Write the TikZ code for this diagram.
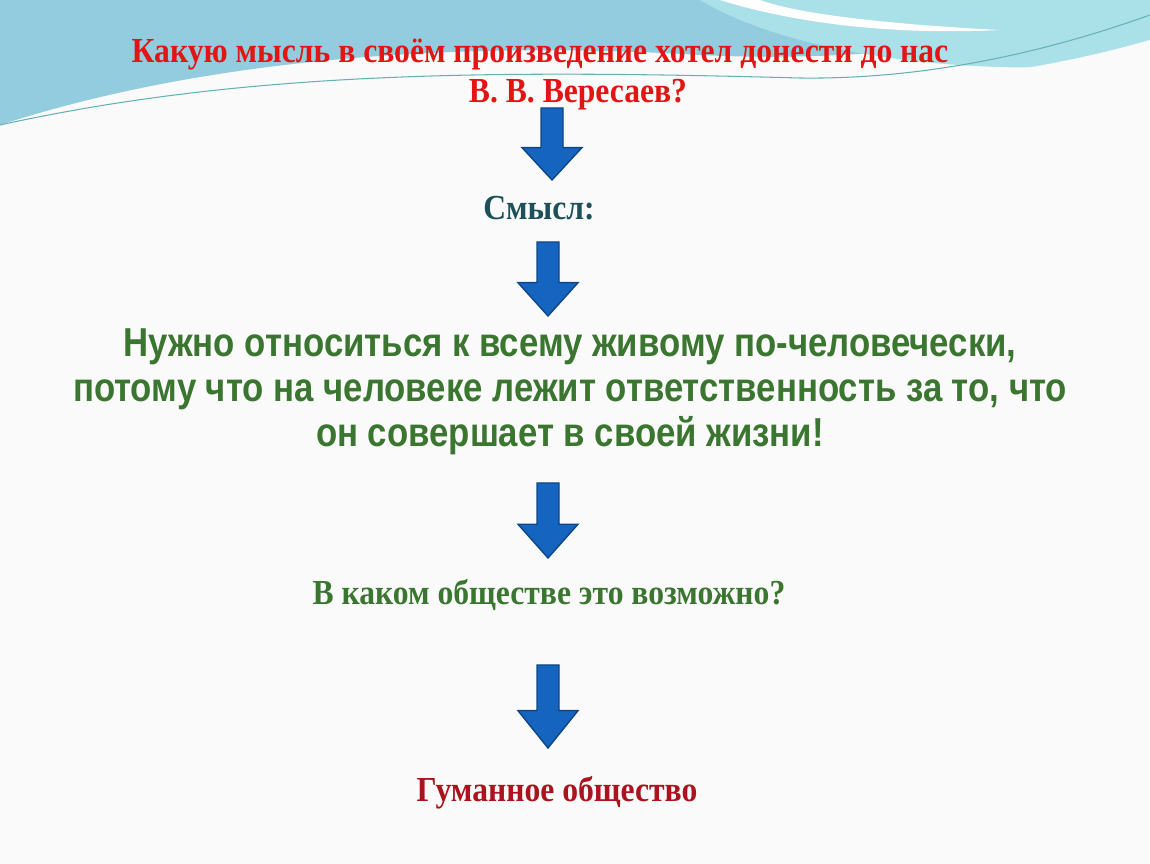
\documentclass[tikz,border=0pt]{standalone}
\usepackage{fontspec}
\setmainfont{Liberation Serif}
\newfontfamily\narrowserif[FakeStretch=0.9]{Liberation Serif}
\newfontfamily\narrowsans[FakeStretch=0.86]{Liberation Sans}
\usetikzlibrary{positioning}
\definecolor{titlered}{RGB}{226,20,20}
\definecolor{sensegreen}{RGB}{58,118,48}
\definecolor{meaningteal}{RGB}{30,80,90}
\definecolor{answerred}{RGB}{170,20,30}
\definecolor{arrowblue}{RGB}{21,101,192}
\definecolor{wavea}{RGB}{120,190,215}
\definecolor{waveb}{RGB}{170,225,232}
\tikzset{
  question/.style={font=\narrowserif\bfseries\fontsize{20}{24}\selectfont},
  statement/.style={font=\narrowsans\bfseries\fontsize{23}{25.5}\selectfont, text=sensegreen, align=center},
  downarrow/.style={fill=arrowblue, draw=arrowblue!70!black, line width=0.8pt}
}
\begin{document}
\begin{tikzpicture}[x=0.02cm, y=-0.02cm]
    \useasboundingbox (0,0) rectangle (1150,864);
    \fill[gray!4] (0,0) rectangle (1150,864);
    % top waves
    \fill[wavea!80] (0,0) -- (0,125) .. controls (200,60) and (450,40) .. (700,55)
        .. controls (900,65) and (1050,30) .. (1150,10) -- (1150,0) -- cycle;
    \fill[waveb] (700,0) .. controls (800,60) and (1000,80) .. (1150,60) -- (1150,0) -- cycle;
    \fill[white] (720,0) .. controls (800,25) and (900,35) .. (1000,30)
        .. controls (900,25) and (800,15) .. (760,0) -- cycle;
    \fill[gray!4] (0,135) .. controls (250,75) and (500,60) .. (800,80)
        .. controls (950,90) and (1080,60) .. (1150,40) -- (1150,864) -- (0,864) -- cycle;
    \draw[teal!60, line width=0.6pt] (0,125) .. controls (250,70) and (500,70) .. (800,78)
        .. controls (950,80) and (1080,40) .. (1150,15);
    % texts
    \node[question, text=titlered] (question) at (540,55) {Какую мысль в своём произведение хотел донести до нас};
    \node[question, text=titlered] (author) at (578,95) {В. В. Вересаев?};
    \node[question, text=meaningteal] (meaning) at (539,208) {Смысл:};
    \node[statement] (idea) at (570,392) {Нужно относиться к всему живому по-человечески,\\
        потому что на человеке лежит ответственность за то, что\\
        он совершает в своей жизни!};
    \node[question, text=sensegreen] (society) at (549,595) {В каком обществе это возможно?};
    \node[question, text=answerred] (answer) at (557,793) {Гуманное общество};
    % arrows
    \foreach \cx/\ytop/\ybot in {552/108/180, 548/242/316, 548/483/558, 548/665/748}
        \draw[downarrow] (\cx-11,\ytop) -- (\cx+11,\ytop) -- (\cx+11,{\ybot-0.45*(\ybot-\ytop)})
            -- (\cx+30,{\ybot-0.45*(\ybot-\ytop)}) -- (\cx,\ybot) -- (\cx-30,{\ybot-0.45*(\ybot-\ytop)})
            -- (\cx-11,{\ybot-0.45*(\ybot-\ytop)}) -- cycle;
\end{tikzpicture}
\end{document}
